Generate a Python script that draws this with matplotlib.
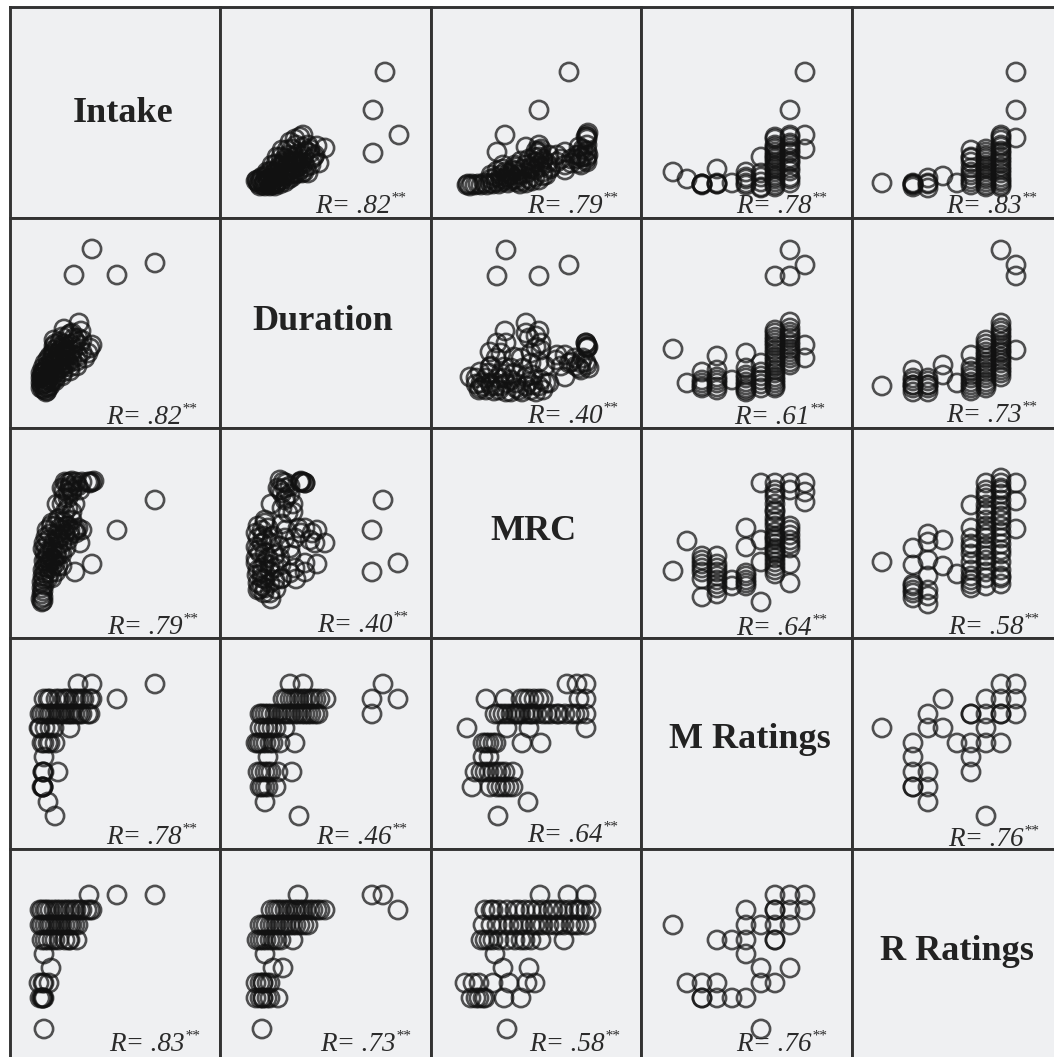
import matplotlib
matplotlib.use('Agg')
from matplotlib import pyplot as plt

# every variable is on one common scale, 0-210 over a panel
names = ["Intake", "Duration", "MRC", "M Ratings", "R Ratings"]

r_text = [
    [None, ".82", ".79", ".78", ".83"],
    [".82", None, ".40", ".61", ".73"],
    [".79", ".40", None, ".64", ".58"],
    [".78", ".46", ".64", None, ".76"],
    [".83", ".73", ".58", ".76", None],
]

duration_a = [165,153,179,153,37,39,41,43,45,47,49,51,53,55,57,59,42,46,50,54,58,62,65,60,69,72,75,47,51,55,59,63,67,71,76,80,84,88,52,56,60,64,68,72,77,82,99,91,57,61,65,69,73,78,84,90,97,105,62,67,72,76,83,88,70,75,83,80,38,40,44,48,52,56,36,40,45,50,55,48,53,58,63,66,70,74,78,82,86,60,66,70,74,79,64,68,72,76,80,84,92,95,86,90,94]
intake_a = [145,107,82,64,37,33,36,32,36,33,35,32,36,33,34,36,40,41,39,40,40,37,35,33,38,40,43,45,46,45,47,44,45,47,49,47,45,44,52,53,52,54,52,55,56,58,54,52,60,60,59,62,60,63,61,64,71,69,67,67,68,72,70,72,75,78,82,80,35,38,34,37,33,35,36,31,31,31,31,43,43,42,42,41,42,44,44,44,50,50,49,49,50,51,56,55,56,54,54,54,58,62,66,68,60]

mrc_b = [138,108,74,66,95,108,36,37,39,41,44,47,50,53,56,59,62,65,68,71,74,77,80,83,86,89,92,95,98,101,104,108,112,115,70,74,78,82,88,85,72,92,96,100,104,108,112,98,103,107,112,116,119,105,110,118,126,134,134,148,140,146,152,156,155,157,156,155,157,156,148,150,145,140,150,156,156,152,156,156,148,134,130,126,120,112,110,105,100,95,90,85,80,75,70,65,60,90,85,108,108,60,66,72,78,84]
intake_b = [145,107,82,65,70,72,32,33,31,33,32,33,32,34,32,34,33,35,33,35,37,34,36,38,35,33,36,34,38,36,40,37,41,42,42,45,44,47,43,50,52,48,44,50,47,52,56,58,60,64,58,54,48,66,68,62,62,65,47,54,58,62,60,60,57,62,82,80,84,80,70,60,58,54,52,55,66,68,72,78,62,52,58,55,50,45,50,55,48,52,42,46,42,40,38,40,38,56,38,60,66,42,46,48,40,52]

m_c = [32,46,61,61,61,76,76,76,91,105,105,105,120,120,120,120,134,134,134,134,134,134,134,134,134,134,149,149,149,149,149,149,149,149,149,164,164,164,61,76,105,105,120,120,134,134,134,134,134,134,134,134,134,134,149,149,149,149,149,149,149]
intake_c = [45,38,33,33,32,48,33,34,34,40,34,45,60,44,35,29,80,70,65,60,55,50,45,40,35,30,107,82,74,69,64,59,54,49,38,145,82,68,33,33,38,32,40,30,72,62,52,42,32,68,58,48,38,78,80,72,66,56,46,40,34]

r_d = [30,61,61,61,76,76,76,91,105,119,119,119,119,119,119,134,134,134,134,134,134,134,134,149,149,149,149,149,149,149,149,149,164,164,164,61,61,76,119,119,119,119,134,134,134,134,134,134,134,134,149,149,149,149,149,149,149,149,149]
intake_d = [34,33,34,32,39,34,29,41,34,67,59,49,42,35,32,65,60,55,50,45,40,35,30,82,77,70,64,57,50,44,37,32,145,107,79,33,30,33,55,45,38,60,68,62,52,42,32,58,48,38,72,66,60,54,47,40,35,30,80]

mrc_e = [75,66,108,138,95,74,108,98,66,156,155,157,105,110,59,83,126,134,144,156,158,148,134,114,39,49,59,73,83,49,59,67,75,75,91,95,102,110,102,85,45,55,65,68,85,80,100,108,115,58,70,92,100,150,155,156,138,108,45,50,55,60,63,70,73,80,88,95,98,105,112,118,52,48,80,90,100,110,105,95,75,70,65,60,125,130,140,150,152,156,155,145]
duration_e = [178,152,152,163,105,97,97,90,85,83,85,81,81,78,76,71,73,73,70,63,60,60,51,62,51,56,61,61,55,40,45,50,36,45,36,51,53,48,43,45,44,38,42,38,40,48,38,42,45,55,55,60,65,65,85,81,65,66,50,45,50,42,37,42,50,36,38,42,46,36,38,45,42,38,60,70,75,85,92,95,85,75,70,62,68,62,66,58,70,80,66,62]

m_f = [32,46,61,61,61,76,76,76,76,76,91,105,105,105,105,105,105,120,120,120,120,134,134,134,134,134,134,134,134,134,134,134,149,149,149,149,149,149,149,149,149,164,164,164,134,134,134,134,134,134,134,134,134,149,149,149,149,149,149,61,61,76,76,105,105,105,120,120]
duration_f = [79,45,56,45,40,72,58,51,45,38,48,75,60,53,46,40,36,65,56,48,40,152,98,91,85,78,71,65,58,51,45,40,178,152,106,100,93,86,79,73,63,163,83,70,95,88,82,75,68,62,55,48,42,96,90,83,76,70,66,48,42,48,41,50,43,38,52,44]

r_g = [30,61,61,61,61,61,76,76,76,76,91,91,105,119,119,119,119,119,134,134,134,134,134,134,134,134,149,149,149,149,149,149,149,149,149,149,149,164,164,164,61,61,76,76,134,134,134,134,134,134,134,149,149,149,149,149,149,149,119,119,119,119]
duration_g = [42,58,50,43,43,36,50,43,43,36,63,53,45,73,61,53,46,40,88,80,73,66,60,53,46,40,178,105,100,93,86,80,75,68,61,55,51,163,152,78,40,47,47,40,84,76,70,63,56,50,43,97,90,83,77,71,65,58,57,50,43,37]

m_h = [32,46,61,61,61,61,61,76,76,76,76,76,76,91,105,105,105,105,105,120,120,120,120,134,134,134,134,134,134,134,134,134,134,149,149,149,149,149,149,149,164,164,164,134,134,134,134,134,134,134,134,134,134,134,134,134,134,149,149,149,61,61,76,76,76,105,105,91]
mrc_h = [67,97,82,74,66,59,41,82,74,66,58,50,44,58,110,91,65,58,52,155,98,76,36,155,148,134,126,112,102,94,80,72,64,155,148,112,103,94,74,55,155,146,136,68,76,84,88,98,106,116,120,128,140,144,100,90,86,108,98,90,78,70,70,62,54,62,55,52]

r_i = [30,61,61,61,61,61,76,76,76,76,76,76,76,91,91,105,119,119,119,119,119,119,119,119,134,134,134,134,134,134,134,134,149,149,149,149,149,149,149,149,149,149,149,164,164,164,149,149,149,149,149,149,149,149,149,149,134,134,134,134,134,134,134,134,134,134,134,134,119,119,119,119,61,61]
mrc_i = [76,90,73,54,48,40,104,96,78,62,48,42,34,98,72,64,133,110,94,84,76,68,58,50,155,148,133,112,100,82,66,52,155,150,144,132,122,112,106,94,76,62,54,155,137,109,60,68,84,88,100,118,126,138,148,160,60,72,78,88,92,104,108,118,124,128,140,144,100,90,62,54,45,52]

r_j = [30,61,61,61,61,61,76,76,76,76,76,91,91,105,119,119,119,119,119,134,134,134,134,134,149,149,149,149,149,164,164,164]
m_j = [120,105,91,76,61,61,134,120,76,61,46,149,120,105,134,134,105,91,76,149,134,120,105,32,164,149,134,134,105,164,149,134]

# (row var, col var) -> col values, row values
pairs = {
    (0, 1): (duration_a, intake_a),
    (0, 2): (mrc_b, intake_b),
    (0, 3): (m_c, intake_c),
    (0, 4): (r_d, intake_d),
    (1, 2): (mrc_e, duration_e),
    (1, 3): (m_f, duration_f),
    (1, 4): (r_g, duration_g),
    (2, 3): (m_h, mrc_h),
    (2, 4): (r_i, mrc_i),
    (3, 4): (r_j, m_j),
}

W, H = 1054, 1057
col_edges = [10, 220, 431, 641, 852, 1054]
row_edges = [7, 218, 428, 638, 849, 1057]
name_pos = [(113, 104), (103, 107), (102, 106), (109, 109), (105, 108)]
r_pos = {
    (0, 1): (315, 213), (0, 2): (527, 213), (0, 3): (736, 213), (0, 4): (946, 213),
    (1, 0): (106, 424), (1, 2): (527, 423), (1, 3): (734, 424), (1, 4): (946, 422),
    (2, 0): (107, 634), (2, 1): (317, 632), (2, 3): (736, 635), (2, 4): (948, 634),
    (3, 0): (106, 844), (3, 1): (316, 844), (3, 2): (527, 842), (3, 4): (948, 846),
    (4, 0): (109, 1051), (4, 1): (320, 1051), (4, 2): (529, 1051), (4, 3): (736, 1051),
}

serif = "Liberation Serif"
fig = plt.figure(figsize=(W / 100, H / 100), dpi=100, facecolor="white")

for r in range(5):
    for c in range(5):
        x0, x1 = col_edges[c], col_edges[c + 1]
        y0, y1 = row_edges[r], row_edges[r + 1]
        ax = fig.add_axes([x0 / W, 1 - y1 / H, (x1 - x0) / W, (y1 - y0) / H])
        ax.set_facecolor("#eff0f2")
        ax.set_xlim(0, x1 - x0)
        ax.set_ylim(210 - (y1 - y0), 210)
        ax.set_xticks([])
        ax.set_yticks([])
        for s in ax.spines.values():
            s.set_linewidth(2.1)
            s.set_color("#333333")
        if c == 4:
            ax.spines["right"].set_visible(False)
        if r == 4:
            ax.spines["bottom"].set_visible(False)

        if r == c:
            ax.text(name_pos[r][0], name_pos[r][1], names[r], family=serif, weight="bold",
                    fontsize=26, color="#222222", ha="center", va="center")
            continue
        if r < c:
            xs, ys = pairs[(r, c)]
        else:
            ys, xs = pairs[(c, r)]
        ax.scatter(xs, ys, s=172, facecolors="none", edgecolors="#111111",
                   linewidths=1.9, alpha=0.72)

for (r, c), (px, py) in r_pos.items():
    fig.text(px / W, 1 - py / H, "R= " + r_text[r][c], family=serif, style="italic",
             fontsize=19.5, color="#2a2a2a", ha="left", va="baseline", zorder=5)
    fig.text((px + 76) / W, 1 - (py - 11) / H, "**", family=serif, style="italic",
             fontsize=11, color="#2a2a2a", ha="left", va="baseline", zorder=5)

fig.savefig("out.png", dpi=100, facecolor="white")
plt.close()
